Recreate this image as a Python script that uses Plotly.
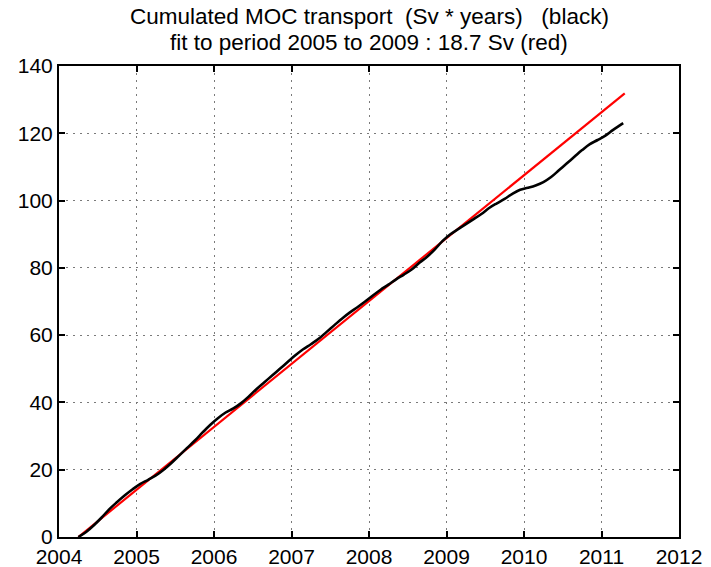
import plotly.graph_objects as go

# Cumulated MOC transport (Sv * years), sampled along the record
years = [2004.25, 2004.35, 2004.45, 2004.55, 2004.65, 2004.75, 2004.85, 2004.95,
         2005.05, 2005.15, 2005.25, 2005.35, 2005.45, 2005.55, 2005.65, 2005.75,
         2005.85, 2005.95, 2006.05, 2006.15, 2006.25, 2006.35, 2006.45, 2006.55,
         2006.65, 2006.75, 2006.85, 2006.95, 2007.05, 2007.15, 2007.25, 2007.35,
         2007.45, 2007.55, 2007.65, 2007.75, 2007.85, 2007.95, 2008.05, 2008.15,
         2008.25, 2008.35, 2008.45, 2008.55, 2008.65, 2008.75, 2008.85, 2008.95,
         2009.05, 2009.15, 2009.25, 2009.35, 2009.45, 2009.55, 2009.65, 2009.75,
         2009.85, 2009.95, 2010.05, 2010.15, 2010.25, 2010.35, 2010.45, 2010.55,
         2010.65, 2010.75, 2010.85, 2010.95, 2011.05, 2011.15, 2011.28]
cum_moc = [0.0, 1.5, 3.5, 5.8, 8.3, 10.4, 12.4, 14.2,
           15.8, 17.0, 18.3, 20.0, 22.0, 24.2, 26.4, 28.6,
           31.0, 33.3, 35.3, 37.0, 38.2, 39.8, 41.8, 44.0,
           46.0, 48.0, 50.0, 52.0, 54.0, 55.8, 57.3, 58.9,
           60.9, 62.9, 64.9, 66.7, 68.3, 70.0, 71.8, 73.5,
           75.0, 76.6, 78.0, 79.5, 81.5, 83.3, 85.5, 88.0,
           90.0, 91.5, 93.0, 94.5, 96.0, 97.8, 99.2, 100.5,
           102.0, 103.2, 103.8, 104.5, 105.5, 107.0, 109.0, 111.0,
           113.0, 115.0, 116.8, 118.0, 119.3, 121.0, 123.0]

# Linear fit over 2005-2009: slope in Sv
fit_slope = 18.7
fit_years = [2004.25, 2011.3]
fit_values = [fit_slope * (t - fit_years[0]) for t in fit_years]

x_ticks = [2004, 2005, 2006, 2007, 2008, 2009, 2010, 2011, 2012]
y_ticks = [0, 20, 40, 60, 80, 100, 120, 140]

fig = go.Figure()
fig.add_trace(go.Scatter(x=fit_years, y=fit_values, mode="lines",
                         line=dict(color="#ff0000", width=2.2), showlegend=False))
fig.add_trace(go.Scatter(x=years, y=cum_moc, mode="lines",
                         line=dict(color="#000000", width=2.6, shape="spline"),
                         showlegend=False))

axis_common = dict(
    showline=True, linecolor="black", linewidth=2, mirror="ticks",
    ticks="inside", ticklen=6, tickwidth=2, tickcolor="black",
    showgrid=True, gridcolor="#7a7a7a", griddash="2px,5px", gridwidth=1.3,
    zeroline=False, automargin=False,
    tickfont=dict(family="Liberation Sans, Arial, sans-serif", size=21, color="black"),
)

fig.update_xaxes(range=[2004, 2012], tickvals=x_ticks,
                 ticktext=[str(v) for v in x_ticks], ticklabelstandoff=0,
                 **axis_common)
fig.update_yaxes(range=[0, 140], tickvals=y_ticks,
                 ticktext=[str(v) for v in y_ticks], ticklabelstandoff=0,
                 **axis_common)

title_font = dict(family="Liberation Sans, Arial, sans-serif", size=22.5, color="black")
fig.add_annotation(text="Cumulated MOC transport  (Sv * years)   (black)",
                   xref="paper", yref="paper", x=0.5, y=1.0, yshift=50,
                   showarrow=False, font=title_font, xanchor="center", yanchor="middle")
fig.add_annotation(text="fit to period 2005 to 2009 : 18.7 Sv (red)",
                   xref="paper", yref="paper", x=0.5, y=1.0, yshift=24,
                   showarrow=False, font=title_font, xanchor="center", yanchor="middle")

fig.update_layout(
    width=711, height=567,
    margin=dict(l=59, r=32, t=66, b=30),
    plot_bgcolor="white", paper_bgcolor="white",
)

fig.write_html("out.html")
